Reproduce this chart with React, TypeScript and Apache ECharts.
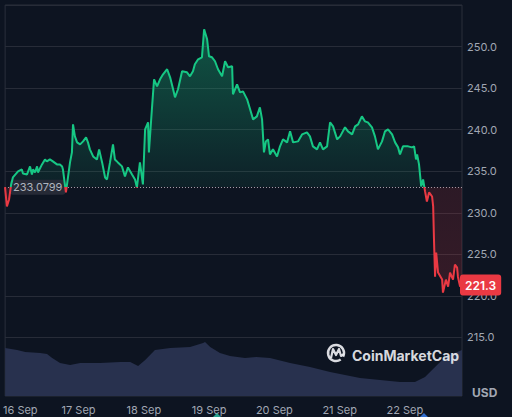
import React, { useEffect, useRef } from "react";
import * as echarts from "echarts";

// hours counted from 15 Sep 21:00
const SPAN_HOURS = 168;
const DAY_TICK_HOURS = [3, 27, 51, 75, 99, 123, 147];
const DAY_LABELS = ["16 Sep", "17 Sep", "18 Sep", "19 Sep", "20 Sep", "21 Sep", "22 Sep"];

const BASE_PRICE = 233.0799;

const PRICE_HOURS = [
  0, 0.7, 1.5, 2.2, 2.9, 4.8, 6.2, 6.6, 8.1, 9.2, 9.9, 10.3, 11.0, 11.8, 12.1, 13.6, 14.7, 15.4, 16.5, 17.6,
  19.1, 20.2, 21.0, 21.3, 22.1, 22.4, 23.2, 23.9, 24.6, 25.0, 25.7, 26.5, 27.6, 28.7, 29.8, 30.5, 31.2, 32.4,
  33.8, 34.6, 35.7, 36.8, 37.5, 38.6, 39.7, 40.4, 41.5, 43.0, 44.1, 45.2, 46.7, 47.8, 48.5, 49.6, 50.7, 51.5,
  52.6, 52.9, 54.0, 54.8, 55.9, 57.0, 58.1, 59.6, 60.7, 61.8, 62.5, 63.6, 65.1, 66.9, 68.0, 69.1, 69.8, 71.0,
  72.4, 73.2, 74.3, 75.0, 76.1, 77.2, 78.3, 79.8, 80.9, 82.0, 83.5, 83.8, 85.3, 86.4, 87.5, 89.0, 90.1, 91.2,
  92.6, 93.7, 94.5, 95.2, 95.9, 96.7, 97.4, 98.5, 100.0, 101.1, 102.2, 103.7, 104.8, 105.9, 107.7, 109.2,
  111.0, 112.1, 113.2, 114.7, 115.8, 116.9, 118.4, 119.5, 120.6, 122.1, 123.2, 125.0, 126.1, 127.6, 128.7,
  129.8, 131.2, 132.3, 133.4, 134.9, 136.0, 137.1, 138.6, 139.7, 140.8, 142.3, 143.4, 144.5, 145.2, 146.3,
  148.2, 149.6, 150.4, 151.1, 151.5, 152.2, 153.0, 153.7, 154.4, 155.1, 155.9, 157.0, 157.4, 157.7, 158.1,
  158.5, 159.2, 160.7, 161.0, 162.1, 162.9, 163.6, 164.7, 165.4, 166.2, 166.5, 167.3, 168.0,
];

const PRICE_VALUES = [
  233.08, 230.76, 231.6, 233.3, 234.25, 234.98, 235.22, 234.73, 234.61, 235.58, 234.61, 235.22, 234.85, 235.58,
  234.85, 235.82, 236.42, 236.18, 236.42, 236.18, 235.82, 235.82, 235.58, 235.22, 233.17, 232.45, 234.37,
  236.06, 237.27, 240.64, 239.19, 238.47, 238.23, 238.59, 239.07, 238.47, 237.63, 236.78, 236.42, 237.63,
  236.06, 234.25, 234.01, 236.06, 238.23, 236.42, 236.06, 235.58, 234.37, 235.46, 234.61, 234.01, 233.05,
  236.06, 233.41, 240.04, 240.88, 237.27, 242.45, 246.06, 245.22, 246.06, 246.66, 247.27, 246.3, 244.86,
  243.89, 244.86, 247.02, 246.9, 246.42, 247.02, 247.87, 248.47, 248.71, 252.08, 250.88, 248.83, 248.71,
  248.23, 247.27, 246.42, 248.23, 247.51, 247.63, 244.25, 245.46, 244.49, 244.61, 243.65, 242.45, 241.24,
  241.6, 242.69, 241.24, 237.27, 238.59, 238.83, 237.02, 237.63, 236.78, 238.0, 238.83, 238.47, 239.8,
  238.47, 238.59, 239.43, 239.67, 239.19, 237.99, 237.63, 238.47, 237.63, 237.99, 240.88, 240.4, 238.83,
  239.19, 240.28, 239.8, 239.43, 240.4, 240.64, 241.6, 241.0, 240.88, 240.28, 239.19, 237.63, 238.59, 239.8,
  240.04, 239.43, 238.47, 237.87, 237.02, 237.99, 237.99, 237.87, 237.99, 236.42, 237.02, 235.82, 233.17,
  234.0, 232.6, 231.36, 232.45, 231.96, 230.76, 226.78, 222.31, 225.21, 222.8, 221.96, 220.39, 221.96,
  221.12, 222.8, 221.96, 223.77, 223.41, 222.31, 221.12, 221.3,
];

const VOLUME_HOURS = [
  0, 4.4, 7.4, 12.9, 15.4, 17.3, 20.2, 23.9, 27.6, 34.9, 42.3, 46.0, 48.9, 51.5, 55.1, 60.7, 68.0, 72.8, 73.5,
  75.4, 79.0, 82.7, 88.2, 92.3, 97.4, 104.8, 112.1, 119.5, 125.0, 130.5, 137.9, 145.2, 150.7, 154.4, 158.1,
  161.8, 165.4, 168.0,
];
const VOLUME_VALUES = [
  48, 46, 44, 43, 42, 38, 33, 31, 33, 33, 34, 34, 30, 36, 46, 48, 49, 53, 54, 49, 43, 40, 38, 39, 38, 33, 29,
  24, 21, 18, 16, 14, 14, 19, 29, 39, 43, 46,
];

const PRICE_MIN = 210;
const PRICE_MAX = 255;
const PRICE_STEP = 5;

const EVENT_HOURS = [77.9, 154.0];
const EVENT_COLORS = ["#2fc3a8", "#3b82f6"];

const GREEN = "#16c784";
const RED = "#ea3943";
const BG = "#0d1421";
const GRID_LINE = "#272c38";
const LABEL = "#a1a7b3";
const FONT = "Inter, 'Noto Sans', sans-serif";

export default function App() {
  const ref = useRef<HTMLDivElement>(null);

  useEffect(() => {
    document.body.style.margin = "0";
    document.body.style.background = BG;
    if (!ref.current) return;
    const chart = echarts.init(ref.current, undefined, { renderer: "svg" });

    const priceData = PRICE_HOURS.map((h, i) => [h, PRICE_VALUES[i]]);
    const volumeData = VOLUME_HOURS.map((h, i) => [h, VOLUME_VALUES[i]]);
    const eventData = EVENT_HOURS.map((h, i) => ({
      value: [h, 0],
      itemStyle: { color: EVENT_COLORS[i] },
    }));
    const pMax = Math.max(...PRICE_VALUES);
    const pMin = Math.min(...PRICE_VALUES);
    const frac = (pMax - BASE_PRICE) / (pMax - pMin);
    const last = PRICE_VALUES[PRICE_VALUES.length - 1];

    const option: any = {
      animation: false,
      backgroundColor: BG,
      textStyle: { fontFamily: FONT },
      grid: [
        { left: 5, right: 50, top: 5, height: 374 },
        {
          left: 5,
          right: 50,
          top: 5,
          bottom: 21,
          show: true,
          borderColor: "#2a2f3b",
          borderWidth: 1,
          backgroundColor: "transparent",
        },
      ],
      xAxis: [
        {
          type: "value",
          gridIndex: 0,
          min: 0,
          max: SPAN_HOURS,
          show: false,
        },
        {
          type: "value",
          gridIndex: 1,
          min: 0,
          max: SPAN_HOURS,
          axisLine: { show: false },
          axisTick: { show: false },
          splitLine: { show: false },
          axisLabel: {
            color: LABEL,
            fontSize: 11,
            fontFamily: FONT,
            margin: 8,
            customValues: DAY_TICK_HOURS,
            formatter: (value: number) => {
              const i = DAY_TICK_HOURS.indexOf(value);
              const s = i >= 0 ? DAY_LABELS[i] : "";
              return i === 0 ? `{first|${s}}` : s;
            },
            rich: {
              first: { padding: [0, 0, 0, 14], color: LABEL, fontSize: 11, fontFamily: FONT },
            },
          },
        },
      ],
      yAxis: [
        {
          type: "value",
          gridIndex: 0,
          position: "right",
          min: PRICE_MIN,
          max: PRICE_MAX,
          interval: PRICE_STEP,
          axisLine: { show: false },
          axisTick: { show: false },
          splitLine: { show: true, showMinLine: false, lineStyle: { color: GRID_LINE, width: 1 } },
          axisLabel: {
            color: LABEL,
            fontSize: 11,
            fontFamily: FONT,
            margin: 5,
            showMinLabel: false,
            showMaxLabel: false,
            formatter: (v: number) => v.toFixed(1),
          },
        },
        {
          type: "value",
          gridIndex: 1,
          min: 0,
          max: 391,
          show: false,
        },
      ],
      visualMap: {
        type: "piecewise",
        show: false,
        seriesIndex: 0,
        dimension: 1,
        pieces: [
          { gt: 0, lte: BASE_PRICE, color: RED },
          { gt: BASE_PRICE, lte: 10000, color: GREEN },
        ],
        outOfRange: { color: GREEN },
      },
      series: [
        {
          type: "line",
          xAxisIndex: 0,
          yAxisIndex: 0,
          data: priceData,
          showSymbol: false,
          symbol: "none",
          z: 5,
          lineStyle: { width: 2 },
          areaStyle: {
            origin: BASE_PRICE,
            color: new echarts.graphic.LinearGradient(0, 0, 0, 1, [
              { offset: 0, color: "rgba(22,199,132,0.52)" },
              { offset: Math.max(0, frac - 0.001), color: "rgba(22,199,132,0.1)" },
              { offset: frac, color: "rgba(234,57,67,0.2)" },
              { offset: 1, color: "rgba(234,57,67,0.26)" },
            ]),
          },
          endLabel: {
            show: true,
            formatter: () => last.toFixed(1),
            backgroundColor: RED,
            color: "#ffffff",
            fontSize: 12,
            fontWeight: 600,
            fontFamily: FONT,
            padding: [5, 5, 4, 5],
            borderRadius: 3,
            distance: -2,
          },
          markLine: {
            silent: true,
            symbol: ["none", "none"],
            data: [[{ coord: [0, BASE_PRICE] }, { coord: [SPAN_HOURS, BASE_PRICE] }]],
            lineStyle: { color: "rgba(205,210,220,0.75)", type: [1, 2], width: 1 },
            label: {
              show: true,
              position: "insideStartTop",
              distance: [5, 0],
              verticalAlign: "middle",
              formatter: () => String(BASE_PRICE),
              backgroundColor: "rgba(40,44,56,0.92)",
              color: "#aeb3be",
              fontSize: 11,
              fontFamily: FONT,
              padding: [2, 3, 2, 3],
              borderRadius: 3,
            },
          },
        },
        {
          type: "line",
          xAxisIndex: 1,
          yAxisIndex: 1,
          data: volumeData,
          showSymbol: false,
          symbol: "none",
          z: 1,
          lineStyle: { width: 0 },
          areaStyle: { color: "#28314e", opacity: 1 },
        },
        {
          type: "scatter",
          xAxisIndex: 1,
          yAxisIndex: 1,
          data: eventData,
          symbol: "diamond",
          symbolSize: 10,
          symbolOffset: [0, 22],
          clip: false,
          silent: true,
          z: 2,
        },
      ],
      graphic: [
        {
          type: "arc",
          shape: { cx: 336, cy: 353, r: 8, startAngle: Math.PI * 0.3, endAngle: Math.PI * 2.15 },
          style: { stroke: "rgba(235,237,241,0.92)", lineWidth: 2.4, fill: "none" },
          z: 10,
        },
        {
          type: "polyline",
          shape: { points: [[331, 358], [333, 349], [336, 355], [339, 349], [341, 356], [344, 354]] },
          style: { stroke: "rgba(235,237,241,0.92)", lineWidth: 2.2, fill: "none", lineJoin: "round" },
          z: 10,
        },
        {
          type: "text",
          x: 352,
          y: 355,
          style: {
            text: "CoinMarketCap",
            fill: "rgba(235,237,241,0.92)",
            font: `bold 14px ${FONT}`,
            verticalAlign: "middle",
          },
          z: 10,
        },
        {
          type: "text",
          x: 472,
          y: 392,
          style: {
            text: "USD",
            fill: LABEL,
            font: `bold 12px ${FONT}`,
            verticalAlign: "middle",
          },
          z: 10,
        },
      ],
    };

    chart.setOption(option);
    return () => chart.dispose();
  }, []);

  return <div ref={ref} style={{ width: 512, height: 417 }} />;
}
